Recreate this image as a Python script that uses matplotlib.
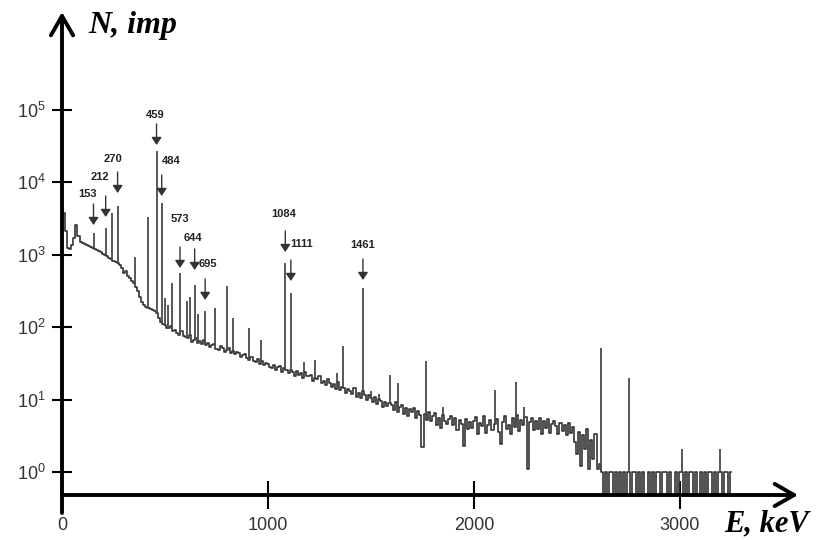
import numpy as np
import matplotlib
matplotlib.use("Agg")
import matplotlib.pyplot as plt
from matplotlib.ticker import NullLocator

plt.rcParams["font.family"] = ["Liberation Sans", "DejaVu Sans"]

# gamma spectrum, 10 keV per channel, one row per 100 keV
channel_kev = 10
counts = [
    4300, 3800, 2100, 1250, 1200, 1350, 1700, 2600, 1800, 1500,   # 0
    1470, 1430, 1360, 1340, 1290, 1260, 1210, 1170, 1130, 1080,   # 100
    1040, 1000, 960, 910, 880, 830, 800, 760, 720, 660,           # 200
    560, 590, 510, 480, 430, 410, 360, 320, 260, 220,             # 300
    200, 188, 183, 176, 172, 168, 158, 132, 118, 112,             # 400
    108, 96, 99, 104, 88, 92, 84, 79, 90, 76,                     # 500
    74, 70, 79, 63, 66, 72, 61, 64, 59, 67,                       # 600
    57, 61, 53, 56, 59, 50, 48, 55, 52, 46,                       # 700
    49, 51, 44, 47, 42, 46, 44, 39, 41, 43,                       # 800
    38, 35, 39, 34, 33, 36, 31, 34, 30, 32,                       # 900
    31, 28, 27, 30, 26, 28, 29, 24, 27, 26,                       # 1000
    23, 26, 24, 21, 25, 22, 23, 20, 24, 21,                       # 1100
    21, 22, 18, 20, 19, 21, 17, 18, 16, 19,                       # 1200
    17, 15, 16.5, 14, 17.5, 13.5, 15, 14.5, 12.5, 14,             # 1300
    13, 12, 14.5, 11, 12.5, 10.5, 13, 11.5, 9.8, 11.5,            # 1400
    10.5, 9.2, 11, 8.6, 10.2, 9.5, 7.8, 9.4, 8.2, 9,              # 1500
    8.4, 7.2, 9.3, 6.8, 7.9, 8.5, 6.4, 7.6, 6.0, 7.3,             # 1600
    6.8, 7.7, 5.6, 6.9, 6.2, 2.2, 6.4, 5.3, 6.7, 5.0,             # 1700
    5.9, 6.6, 4.5, 5.5, 4.1, 6.2, 5.0, 4.6, 5.4, 6.0,             # 1800
    4.4, 5.6, 3.8, 5.2, 4.6, 2.3, 5.4, 3.9, 4.9, 4.1,             # 1900
    5.0, 5.7, 3.4, 4.7, 4.3, 5.9, 3.5, 4.5, 5.3, 3.8,             # 2000
    4.6, 5.4, 3.6, 2.4, 4.9, 6.0, 3.9, 4.4, 3.3, 5.5,             # 2100
    4.2, 6.1, 3.7, 5.2, 4.4, 5.8, 1.1, 4.9, 5.6, 3.8,             # 2200
    5.1, 3.9, 5.6, 3.4, 5.0, 4.1, 5.4, 3.5, 4.6, 5.0,             # 2300
    4.3, 3.3, 4.8, 3.7, 4.5, 3.2, 4.7, 3.5, 4.2, 2.6,             # 2400
    1.8, 3.6, 1.2, 3.2, 2.1, 3.9, 1.1, 2.8, 1.5, 3.4,             # 2500
    1.1, 1.3, 1, 0, 1, 0, 1, 1, 0, 1,                             # 2600
    0, 1, 0, 1, 0, 1, 0, 1, 1, 0,                                 # 2700
    1, 0, 1, 0, 0, 1, 0, 1, 0, 1,                                 # 2800
    1, 0, 1, 1, 0, 1, 0, 0, 1, 0,                                 # 2900
    1, 1, 0, 1, 0, 1, 1, 0, 1, 0,                                 # 3000
    1, 0, 1, 0, 1, 1, 0, 1, 0, 1,                                 # 3100
    1, 0, 1, 1, 0, 1,                                             # 3200
]

# line peaks: position (keV) and height at the top (counts)
peak_kev = [153, 212, 245, 270, 310, 352, 417, 459, 484, 500, 515, 534, 573,
            607, 621, 644, 660, 695, 743, 800, 830, 908, 966, 1084, 1111, 1175,
            1228, 1335, 1364, 1461, 1500, 1540, 1592, 1631, 1767, 1850, 2102,
            2204, 2243, 2617, 2752, 3010, 3194]
peak_top = [2000, 2350, 3800, 4700, 580, 930, 3300, 27000, 5200, 250, 200, 410,
            560, 230, 260, 380, 150, 170, 185, 370, 135, 98, 66, 780, 300, 33,
            35, 23, 55, 350, 13, 12, 22, 17, 34, 8, 13.5, 17.5, 8, 52, 20, 2.1,
            2.1]

# identified lines marked with arrows
label_kev = [153, 212, 270, 459, 484, 573, 644, 695, 1084, 1111, 1461]
arrow_tip = [2580, 3330, 7140, 32900, 6490, 658, 617, 238, 1093, 435, 449]
text_dx = [-6.5, -6, -5, -1, 10, 0, -2, 3, -2, 11, 0]       # px
text_dy = [31, 40, 34, 30, 35, 49, 32, 36, 38, 37, 35]       # px

fig = plt.figure(figsize=(8.21, 5.4), dpi=100)
ax = fig.add_axes([62 / 821, 45 / 540, 736 / 821, 483 / 540])
ax.set_yscale("log", nonpositive="clip")
ax.set_xlim(0, 3573)
ax.set_ylim(0.481, 10 ** 6.354)

energy = np.arange(len(counts)) * channel_kev
counts_arr = np.array(counts, dtype=float)
ax.plot(energy, counts_arr, drawstyle="steps-mid", color="#333333", lw=1.2)

base = counts_arr[np.rint(np.array(peak_kev) / channel_kev).astype(int)]
ax.vlines(peak_kev, base, peak_top, color="#4a4a4a", lw=1.3)

pt = 0.72  # points per pixel at 100 dpi
for e, tip, dx, dy in zip(label_kev, arrow_tip, text_dx, text_dy):
    ax.annotate("", xy=(e, tip), xytext=(0, 21 * pt), textcoords="offset points",
                arrowprops=dict(arrowstyle="-|>,head_length=0.45,head_width=0.3",
                                color="#333333", lw=1.0, mutation_scale=10,
                                shrinkA=0, shrinkB=0))
    ax.annotate(str(e), xy=(e, tip), xytext=(dx * pt, dy * pt),
                textcoords="offset points", ha="center", va="center",
                fontsize=8, fontweight="bold", color="#222222")

# axes drawn as arrows
for s in ax.spines.values():
    s.set_visible(False)
axis_arrow = dict(arrowstyle="->,head_length=0.7,head_width=0.4", lw=2.8,
                  color="black", shrinkA=0, shrinkB=0, mutation_scale=20)
ax.annotate("", xy=(0, 1), xycoords="axes fraction", xytext=(0, -18 / 483),
            textcoords="axes fraction", arrowprops=axis_arrow, annotation_clip=False)
ax.annotate("", xy=(1, 0), xycoords="axes fraction", xytext=(0, 0),
            textcoords="axes fraction", arrowprops=axis_arrow, annotation_clip=False)

ax.set_xticks([0, 1000, 2000, 3000])
ax.set_yticks([1, 10, 100, 1e3, 1e4, 1e5])
ax.yaxis.set_minor_locator(NullLocator())
ax.tick_params(axis="x", direction="inout", length=20, width=1.5, pad=6,
               labelsize=13, labelcolor="#333333", color="black")
ax.tick_params(axis="y", direction="inout", length=14, width=1.5, pad=5,
               labelsize=13, labelcolor="#333333", color="black")

title_font = dict(family="Liberation Serif", style="italic", weight="bold")
fig.text(88 / 821, 1 - 33 / 540, "N, imp", size=23, va="baseline", **title_font)
fig.text(724 / 821, 1 - 531 / 540, "E, keV", size=22, va="baseline", **title_font)

fig.savefig("out.png", dpi=100)
